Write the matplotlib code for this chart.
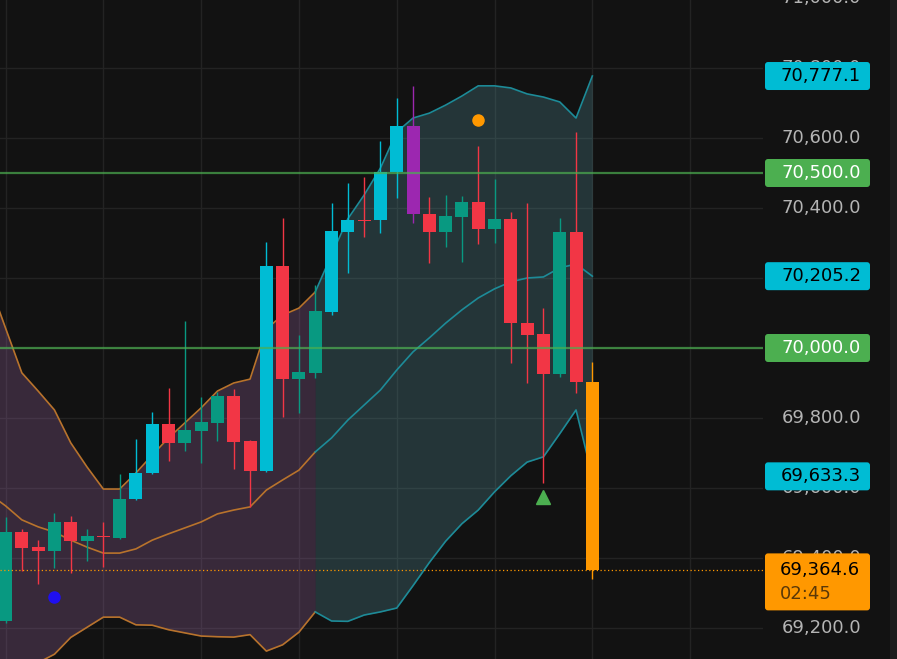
import matplotlib
matplotlib.use("Agg")
import matplotlib.pyplot as plt
from matplotlib.patches import FancyBboxPatch, Rectangle

# ---- candles (index 0..36) ----
opens = [69221, 69474, 69430, 69421, 69503, 69449, 69464, 69458, 69568, 69642,
         69783, 69729, 69764, 69787, 69863, 69734, 69649, 70234, 69912, 69928,
         70104, 70332, 70366, 70365, 70502, 70634, 70383, 70332, 70375, 70417,
         70341, 70369, 70071, 70040, 69926, 70331, 69904]
highs = [69518, 69483, 69451, 69528, 69520, 69483, 69503, 69640, 69741, 69817,
         69885, 70077, 69859, 69875, 69882, 69736, 70303, 70371, 70037, 70180,
         70413, 70471, 70490, 70591, 70713, 70749, 70432, 70437, 70434, 70577,
         70483, 70388, 70415, 70113, 70371, 70618, 69959]
lows = [69215, 69364, 69325, 69372, 69358, 69390, 69375, 69453, 69566, 69640,
        69677, 69707, 69670, 69735, 69653, 69547, 69647, 69804, 69814, 69914,
        70094, 70213, 70318, 70328, 70428, 70356, 70242, 70289, 70245, 70296,
        70301, 69958, 69901, 69615, 69918, 69871, 69339]
closes = [69475, 69429, 69421, 69502, 69449, 69463, 69459, 69569, 69642, 69783,
          69729, 69766, 69789, 69863, 69732, 69649, 70234, 69912, 69932, 70107,
          70334, 70366, 70362, 70502, 70634, 70382, 70332, 70378, 70417, 70340,
          70368, 70071, 70038, 69926, 70331, 69904, 69364.6]
# n = normal, c = cyan highlight, p = purple highlight, o = live bar
kinds = list("nnnnnnnn" "cc" "nnnnnn" "c" "nnn" "cc" "n" "cc" "p" "nnnnnnnnnn" "o")

# ---- bollinger bands (index -1..36) ----
upper = [70186, 70057, 69929, 69877, 69823, 69729, 69660, 69597, 69597, 69643,
         69694, 69743, 69786, 69829, 69877, 69900, 69911, 70054, 70094, 70114,
         70160, 70266, 70369, 70437, 70514, 70617, 70657, 70671, 70694, 70720,
         70749, 70749, 70743, 70726, 70717, 70703, 70657, 70777.1]
middle = [69583, 69549, 69509, 69489, 69474, 69451, 69431, 69414, 69414, 69426,
          69451, 69469, 69486, 69503, 69526, 69537, 69546, 69594, 69623, 69651,
          69703, 69743, 69794, 69837, 69880, 69937, 69989, 70029, 70071, 70109,
          70143, 70169, 70189, 70200, 70203, 70229, 70240, 70205.2]
lower = [68980, 69041, 69089, 69101, 69125, 69173, 69202, 69231, 69231, 69209,
         69208, 69195, 69186, 69177, 69175, 69174, 69181, 69134, 69152, 69188,
         69246, 69220, 69219, 69237, 69246, 69257, 69321, 69387, 69448, 69498,
         69537, 69589, 69635, 69674, 69689, 69755, 69823, 69633.3]
band_switch = 19  # trend colour changes here

# ---- signals / levels ----
blue_dot = (3, 69289)
orange_dot = (29, 70651)
green_tri = (33, 69574)
levels = [70500, 70000]
last_price = 69364.6
countdown = "02:45"
ticks = [69200, 69400, 69600, 69800, 70000, 70200, 70400, 70600, 70800, 71000]

BG = "#121212"
RED, TEAL, CYAN, PURPLE, ORANGE = "#f23645", "#089981", "#00bcd4", "#9c27b0", "#ff9800"
GREEN = "#4caf50"

W, H = 897, 659
PLOT_W = 763
ylo, yhi = 69111.4, 70994.3

fig = plt.figure(figsize=(W / 100, H / 100), dpi=100, facecolor=BG)
ax = fig.add_axes([0, 0, PLOT_W / W, 1])
ax.set_xlim(-0.34, 46.47)
ax.set_ylim(ylo, yhi)
ax.set_axis_off()

# grid
for p in ticks:
    ax.axhline(p, color="#232323", lw=1, zorder=0)
for i in range(0, 47, 6):
    ax.axvline(i, color="#232323", lw=1, zorder=0)

# bands
bx = list(range(-1, 37))
s = band_switch + 1
ax.fill_between(bx[:s + 1], upper[:s + 1], lower[:s + 1],
                color=(170 / 255, 110 / 255, 180 / 255), alpha=0.25, lw=0, zorder=1)
ax.fill_between(bx[s:], upper[s:], lower[s:],
                color=(90 / 255, 160 / 255, 170 / 255), alpha=0.25, lw=0, zorder=1)
for band in (upper, middle, lower):
    ax.plot(bx[:s + 1], band[:s + 1], color="#b8732c", lw=1.2, zorder=2)
    ax.plot(bx[s:], band[s:], color="#1d8b98", lw=1.2, zorder=2)

# candles
for i in range(len(opens)):
    o, h, l, c = opens[i], highs[i], lows[i], closes[i]
    k = kinds[i]
    if k == "c":
        col = CYAN
    elif k == "p":
        col = PURPLE
    elif k == "o":
        col = ORANGE
    else:
        col = TEAL if c >= o else RED
    ax.vlines(i, l, h, color=col, lw=1.0, zorder=3)
    body = max(abs(c - o), 5)
    ax.bar(i, body, bottom=min(o, c), width=0.8, color=col, lw=0, zorder=4)

# levels
for lv in levels:
    ax.axhline(lv, color=GREEN, lw=1.6, alpha=0.7, zorder=5)
ax.axhline(last_price, color=ORANGE, lw=0.9, ls=(0, (1, 2)), zorder=5)

# signals
ax.plot(*blue_dot, "o", color="#1f0ff0", ms=8, zorder=6)
ax.plot(*orange_dot, "o", color=ORANGE, ms=8, zorder=6)
ax.plot(*green_tri, "^", color=GREEN, ms=10, zorder=6)

# ---- right price scale ----
ax2 = fig.add_axes([PLOT_W / W, 0, (W - PLOT_W) / W, 1])
ax2.set_xlim(0, W - PLOT_W)
ax2.set_ylim(ylo, yhi)
ax2.set_axis_off()
ppx = (yhi - ylo) / H  # price per pixel

ax2.add_patch(Rectangle((127, ylo), 10, yhi - ylo, color="#1d1d1d", lw=0, zorder=0))

for p in ticks:
    ax2.text(98, p, f"{p:,.1f}", color="#b4b4b4", fontsize=13,
             ha="right", va="center", zorder=1)


def tag(y0, y1, face):
    ax2.add_patch(FancyBboxPatch((2, y0), 105, y1 - y0,
                                 boxstyle="round,pad=0,rounding_size=3",
                                 mutation_aspect=ppx, fc=face, ec="none", zorder=2))


band_tags = [(upper[-1], CYAN, "black"), (middle[-1], CYAN, "black"),
             (lower[-1], CYAN, "black"), (levels[0], GREEN, "white"),
             (levels[1], GREEN, "white")]
for val, face, tc in band_tags:
    tag(val - 14 * ppx, val + 14 * ppx, face)
    ax2.text(98, val, f"{val:,.1f}", color=tc, fontsize=13,
             ha="right", va="center", zorder=3)

tag(last_price - 40 * ppx, last_price + 17 * ppx, ORANGE)
ax2.text(17, last_price, f"{last_price:,.1f}", color="black", fontsize=13,
         ha="left", va="center", zorder=3)
ax2.text(17, last_price - 24 * ppx, countdown, color="#5a3808", fontsize=13,
         ha="left", va="center", zorder=3)

fig.savefig("out.png", dpi=100, facecolor=BG)
